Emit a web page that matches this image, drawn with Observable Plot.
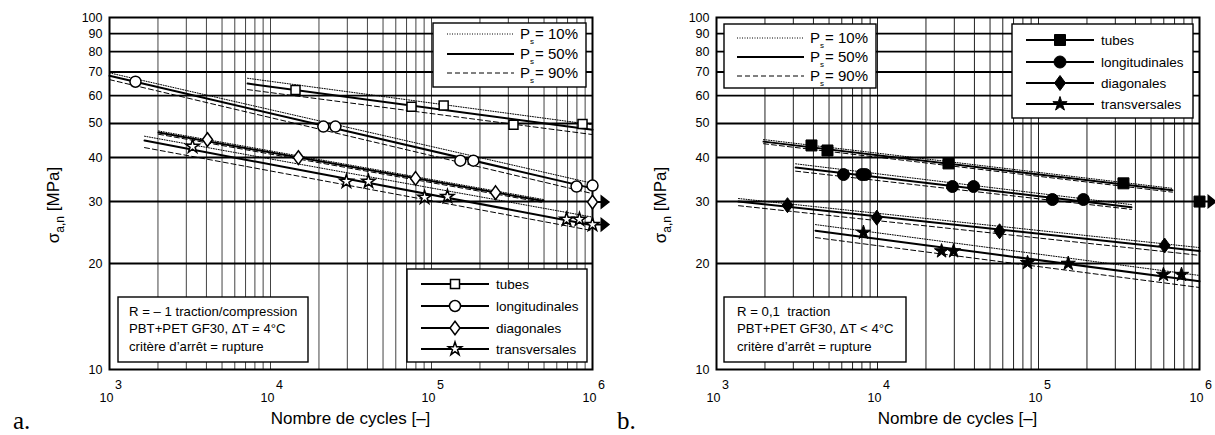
<!DOCTYPE html>
<html><head><meta charset="utf-8">
<script src="https://cdn.jsdelivr.net/npm/d3@7"></script>
<script src="https://cdn.jsdelivr.net/npm/@observablehq/plot@0.6"></script>
<style>
body{margin:0;background:#fff;}
#wrap{position:relative;width:1215px;height:435px;overflow:hidden;font-family:"Liberation Sans",Arial,Helvetica,sans-serif;}
#wrap svg{position:absolute;top:0;overflow:visible;}
</style></head><body><div id="wrap"></div>
<script>
// ---------- shared axis data ----------
const yTicks = [10,20,30,40,50,60,70,80,90,100];
const yGrid = [20,30,40,50,60,70,80,90];
const xGrid = [2e3,3e3,4e3,5e3,6e3,7e3,8e3,9e3,1e4,2e4,3e4,4e4,5e4,6e4,7e4,8e4,9e4,1e5,2e5,3e5,4e5,5e5,6e5,7e5,8e5,9e5];
const xDecades = [1e3,1e4,1e5,1e6];
const xExponents = ["3","4","5","6"];
const seriesNames = ["tubes","longitudinales","diagonales","transversales"];
const psLabels = ["= 10%","= 50%","= 90%"];
const xLabel = "Nombre de cycles [–]";

// ---------- panel a : R = -1 ----------
const aTubesN = [14300, 75100, 119000, 323000, 867000];
const aTubesS = [62.2, 55.8, 56.2, 49.6, 49.8];
const aLongN = [1450, 21300, 25300, 151000, 182000, 796000, 1000000];
const aLongS = [65.7, 49.0, 49.0, 39.2, 39.2, 33.1, 33.3];
const aDiagN = [4060, 14900, 79600, 250000, 1000000];
const aDiagS = [45.0, 40.0, 34.9, 31.8, 29.9];
const aTransN = [3280, 29600, 40600, 90600, 125600, 690000, 830000, 1000000];
const aTransS = [43.0, 34.2, 34.2, 30.8, 31.0, 26.7, 26.7, 25.8];
const aRunoutN = [1000000, 1000000];
const aRunoutS = [29.9, 25.8];
const aFitN0 = [7200, 1000, 2015, 1650];
const aFitN1 = [1000000, 1000000, 497000, 1000000];
const aP10S0 = [67.2, 69.6, 47.6, 46.0];
const aP10S1 = [49.6, 33.8, 30.4, 27.1];
const aP50S0 = [64.9, 68.3, 47.1, 44.7];
const aP50S1 = [48.0, 32.7, 30.1, 25.7];
const aP90S0 = [62.4, 66.6, 46.6, 42.7];
const aP90S1 = [46.5, 31.6, 29.8, 24.8];
const aInfo = ["R = – 1 traction/compression", "PBT+PET GF30, ΔT = 4°C", "critère d’arrêt = rupture"];

// ---------- panel b : R = 0,1 ----------
const bTubesN = [3890, 4890, 27600, 337000, 1000000];
const bTubesS = [43.3, 41.9, 38.5, 33.8, 30.0];
const bLongN = [6150, 8000, 8400, 29200, 39500, 122000, 190000];
const bLongS = [35.8, 35.8, 35.8, 33.1, 33.1, 30.4, 30.4];
const bDiagN = [2760, 9900, 57300, 607000];
const bDiagS = [29.3, 27.0, 24.7, 22.5];
const bTransN = [8180, 25000, 29700, 85500, 153000, 597000, 773000];
const bTransS = [24.5, 21.7, 21.7, 20.1, 20.0, 18.6, 18.6];
const bRunoutN = [1000000];
const bRunoutS = [30.0];
const bFitN0 = [1960, 3100, 1370, 4120];
const bFitN1 = [679000, 378000, 1000000, 1000000];
const bP10S0 = [45.0, 38.4, 30.6, 25.8];
const bP10S1 = [32.7, 29.4, 22.2, 18.5];
const bP50S0 = [44.4, 37.5, 30.0, 24.8];
const bP50S1 = [32.3, 28.9, 21.7, 17.8];
const bP90S0 = [43.8, 36.6, 29.2, 23.7];
const bP90S1 = [31.9, 28.5, 21.1, 17.1];
const bInfo = ["R = 0,1  traction", "PBT+PET GF30, ΔT < 4°C", "critère d’arrêt = rupture"];

// ---------- symbols ----------
const FONT = '"Liberation Sans", Arial, Helvetica, sans-serif';
const sq = h => ({draw(c){c.moveTo(-h,-h);c.lineTo(h,-h);c.lineTo(h,h);c.lineTo(-h,h);c.closePath();}});
const circ = r => ({draw(c){c.moveTo(r,0);c.arc(0,0,r,0,2*Math.PI);c.closePath();}});
const diam = (w,h) => ({draw(c){c.moveTo(0,-h);c.lineTo(w,0);c.lineTo(0,h);c.lineTo(-w,0);c.closePath();}});
const star = R => ({draw(c){d3.symbolStar.draw(c, R*R/0.8908130915292852);}});
const arrowSym = {draw(c){c.moveTo(0,0);c.lineTo(9,0);c.moveTo(9,-5.5);c.lineTo(16,0);c.lineTo(9,5.5);c.closePath();}};

const zip = (N,S) => N.map((n,i)=>({N:n,S:S[i]}));
const seg = (names,N0,N1,S0,S1) => names.flatMap((s,i)=>[{series:s,N:N0[i],S:S0[i]},{series:s,N:N1[i],S:S1[i]}]);

function makePanel(p){
  const dotOpts = {x:"N", y:"S", r:5, fill:p.fill, stroke:"#000", strokeWidth:p.sw};
  const marks = [
    Plot.ruleX(xGrid, {stroke:p.vgrid, strokeWidth:1}),
    Plot.ruleY(yGrid, {stroke:"#000", strokeWidth:1.9}),
    Plot.line(seg(seriesNames,p.N0,p.N1,p.p90a,p.p90b), {x:"N",y:"S",z:"series",stroke:"#000",strokeWidth:1,strokeDasharray:"5,3"}),
    Plot.line(seg(seriesNames,p.N0,p.N1,p.p10a,p.p10b), {x:"N",y:"S",z:"series",stroke:"#000",strokeWidth:1,strokeDasharray:"1,1.5"}),
    Plot.line(seg(seriesNames,p.N0,p.N1,p.p50a,p.p50b), {x:"N",y:"S",z:"series",stroke:"#000",strokeWidth:2}),
    Plot.frame({stroke:"#000", strokeWidth:2}),
    Plot.dot(zip(p.runN,p.runS), {x:"N",y:"S",r:5,symbol:arrowSym,fill:"#000",stroke:"#000",strokeWidth:2}),
    Plot.dot(zip(p.tubesN,p.tubesS), {...dotOpts, symbol:p.sym[0]}),
    Plot.dot(zip(p.longN,p.longS), {...dotOpts, symbol:p.sym[1]}),
    Plot.dot(zip(p.diagN,p.diagS), {...dotOpts, symbol:p.sym[2]}),
    Plot.dot(zip(p.transN,p.transS), {...dotOpts, symbol:p.sym[3]}),
    Plot.text(xDecades, {x:d=>d, text:()=>"10", frameAnchor:"bottom", dy:28, dx:-3, fontSize:12.5, lineAnchor:"middle"}),
    Plot.text(xDecades.map((d,i)=>({N:d,e:xExponents[i]})), {x:"N", text:"e", frameAnchor:"bottom", dy:15, dx:9, fontSize:12.5, lineAnchor:"middle"})
  ];
  const svg = Plot.plot({
    width:607, height:435,
    marginLeft:109, marginRight:15, marginTop:17, marginBottom:66,
    x:{type:"log", domain:[1e3,1e6], axis:null},
    y:{type:"log", domain:[10,100], ticks:yTicks, tickFormat:d=>String(d), tickSize:0, tickPadding:7, label:null},
    style:{fontFamily:FONT, fontSize:"12.5px", color:"#000", background:"transparent"},
    marks
  });
  svg.style.left = p.left + "px";
  overlay(svg, p);
  document.getElementById("wrap").appendChild(svg);
}

function overlay(svg, p){
  const g = d3.select(svg).append("g").attr("font-family", FONT).attr("fill","#000").attr("text-anchor","start");
  const box = (x0,y0,x1,y1) => g.append("rect").attr("x",x0).attr("y",y0).attr("width",x1-x0).attr("height",y1-y0).attr("fill","#fff").attr("stroke","#000").attr("stroke-width",1.4);
  // Ps legend
  const P = p.psLeg;
  box(P.x0,P.y0,P.x1,P.y1);
  psLabels.forEach((lab,i)=>{
    const y = P.rows[i];
    const ln = g.append("line").attr("x1",P.lx0).attr("x2",P.lx1).attr("y1",y).attr("y2",y).attr("stroke","#000")
      .attr("stroke-width",[1,2,1][i]);
    if(i!==1) ln.attr("stroke-dasharray", i===0 ? "1,1.5" : "5,3");
    const t = g.append("text").attr("x",P.tx).attr("y",y+5).attr("font-size",15);
    t.append("tspan").text("P");
    t.append("tspan").attr("font-size",8).attr("dy",4.5).text("s");
    t.append("tspan").attr("dx",1).attr("dy",-4.5).text(lab);
  });
  // marker legend
  const M = p.mLeg;
  box(M.x0,M.y0,M.x1,M.y1);
  seriesNames.forEach((s,i)=>{
    const y = M.rows[i];
    g.append("line").attr("x1",M.lx0).attr("x2",M.lx1).attr("y1",y).attr("y2",y).attr("stroke","#000").attr("stroke-width",2);
    g.append("path").attr("transform",`translate(${(M.lx0+M.lx1)/2},${y})`).attr("d",d3.symbol(p.sym[i])())
      .attr("fill",p.fill).attr("stroke","#000").attr("stroke-width",p.sw);
    g.append("text").attr("x",M.tx).attr("y",y+5).attr("font-size",13.5).text(s);
  });
  // info box
  const T = p.info;
  box(T.x0,T.y0,T.x1,T.y1);
  p.infoText.forEach((t,i)=> g.append("text").attr("x",T.tx).attr("y",T.rows[i]).attr("font-size",13.2).text(t));
  // axis titles
  const yl = g.append("text").attr("transform","translate(58.5,205) rotate(-90)").attr("text-anchor","middle").attr("font-size",17);
  yl.append("tspan").text("σ");
  yl.append("tspan").attr("font-size",12).attr("dy",5).text("a,n");
  yl.append("tspan").attr("dy",-5).text(" [MPa]");
  g.append("text").attr("x",(109+592)/2).attr("y",424).attr("text-anchor","middle").attr("font-size",17).text(xLabel);
  g.append("text").attr("x",p.tagX).attr("y",429).attr("font-family",'"Liberation Serif","Times New Roman",serif').attr("font-size",25).text(p.tag);
}

makePanel({
  left:0, tag:"a.", tagX:13, fill:"#fff", sw:1.5, vgrid:"#444",
  sym:[sq(4.5), circ(5.5), diam(5,6.8), star(7)],
  tubesN:aTubesN, tubesS:aTubesS, longN:aLongN, longS:aLongS, diagN:aDiagN, diagS:aDiagS, transN:aTransN, transS:aTransS,
  runN:aRunoutN, runS:aRunoutS,
  N0:aFitN0, N1:aFitN1, p10a:aP10S0, p10b:aP10S1, p50a:aP50S0, p50b:aP50S1, p90a:aP90S0, p90b:aP90S1,
  psLeg:{x0:433,y0:23,x1:586,y1:87, rows:[34,54,73], lx0:447, lx1:514, tx:520},
  mLeg:{x0:407,y0:269,x1:587,y1:362, rows:[284,306,328,349], lx0:421, lx1:489, tx:496},
  info:{x0:118,y0:297,x1:308,y1:362, rows:[316,333,351], tx:129},
  infoText:aInfo
});
makePanel({
  left:607, tag:"b.", tagX:10, fill:"#000", sw:1, vgrid:"#222",
  sym:[sq(5.5), circ(6), diam(5.5,7.5), star(7.5)],
  tubesN:bTubesN, tubesS:bTubesS, longN:bLongN, longS:bLongS, diagN:bDiagN, diagS:bDiagS, transN:bTransN, transS:bTransS,
  runN:bRunoutN, runS:bRunoutS,
  N0:bFitN0, N1:bFitN1, p10a:bP10S0, p10b:bP10S1, p50a:bP50S0, p50b:bP50S1, p90a:bP90S0, p90b:bP90S1,
  psLeg:{x0:117,y0:24,x1:269,y1:88, rows:[38,57,76], lx0:130, lx1:197, tx:203},
  mLeg:{x0:405,y0:24,x1:586,y1:118, rows:[40,62,83,104], lx0:419, lx1:487, tx:494},
  info:{x0:117,y0:297,x1:299,y1:362, rows:[316,333,351], tx:130},
  infoText:bInfo
});
</script></body></html>
